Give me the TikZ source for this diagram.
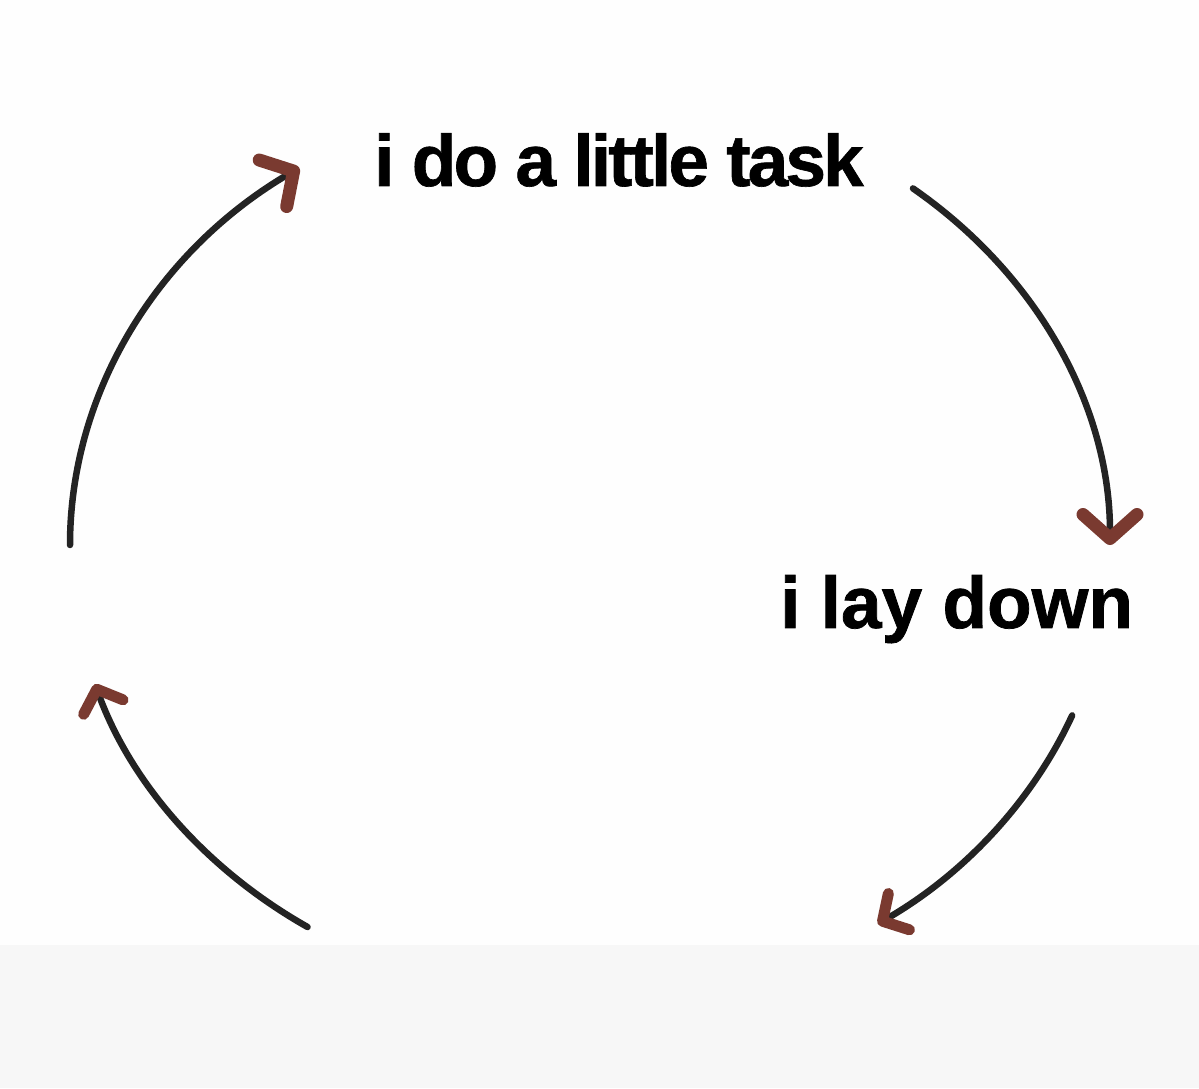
\documentclass[tikz,border=0pt]{standalone}
\usepackage{fontspec}
\setmainfont{Liberation Sans}[BoldFeatures={FakeBold=1.0}]
\newfontfamily\tightfont{Liberation Sans}[LetterSpace=-4.0, BoldFeatures={FakeBold=0.9}]
\usetikzlibrary{arrows.meta,calc}
\definecolor{linegrey}{HTML}{232323}
\definecolor{tipbrown}{HTML}{7A3A30}
\definecolor{paper}{HTML}{FEFEFE}
\definecolor{paperband}{HTML}{F7F7F7}
\tikzset{
  arcline/.style={line width=6.5pt, draw=linegrey, line cap=round},
  bigtip/.style={-{Straight Barb[length=24pt,width=54pt,line width=13pt,round,color=tipbrown]}},
  smalltip/.style={-{Straight Barb[length=19pt,width=42pt,line width=11pt,round,color=tipbrown]}},
  captext/.style={anchor=base west, inner sep=0pt, font=\fontsize{73}{80}\selectfont\bfseries}
}
\begin{document}
\begin{tikzpicture}[x=1pt,y=1pt]
  \useasboundingbox (0,0) rectangle (1199,1088);
  \fill[paper] (0,0) rectangle (1199,1088);
  \fill[paperband] (0,0) rectangle (1199,143);
  \coordinate (ctr) at (590,543);
  % texts
  \node[captext] (task) at (374,902) {\tightfont\bfseries i do a little task};
  \node[captext] (lay) at (780,460) {i lay down};
  % arcs
  \coordinate (a1s) at ($(ctr)+(180:520 and 455)$);
  \draw[arcline, bigtip] (a1s) arc[start angle=180, end angle=124, x radius=520, y radius=455];
  \coordinate (a2s) at ($(ctr)+(51.6:520 and 455)$);
  \draw[arcline, bigtip] (a2s) arc[start angle=51.6, end angle=0, x radius=520, y radius=455];
  \coordinate (a3s) at ($(ctr)+(-22:520 and 455)$);
  \draw[arcline, smalltip] (a3s) arc[start angle=-22, end angle=-56.4, x radius=520, y radius=455];
  \coordinate (a4s) at ($(ctr)+(-122.9:520 and 455)$);
  \draw[arcline, smalltip] (a4s) arc[start angle=-122.9, end angle=-162.2, x radius=520, y radius=455];
\end{tikzpicture}
\end{document}
